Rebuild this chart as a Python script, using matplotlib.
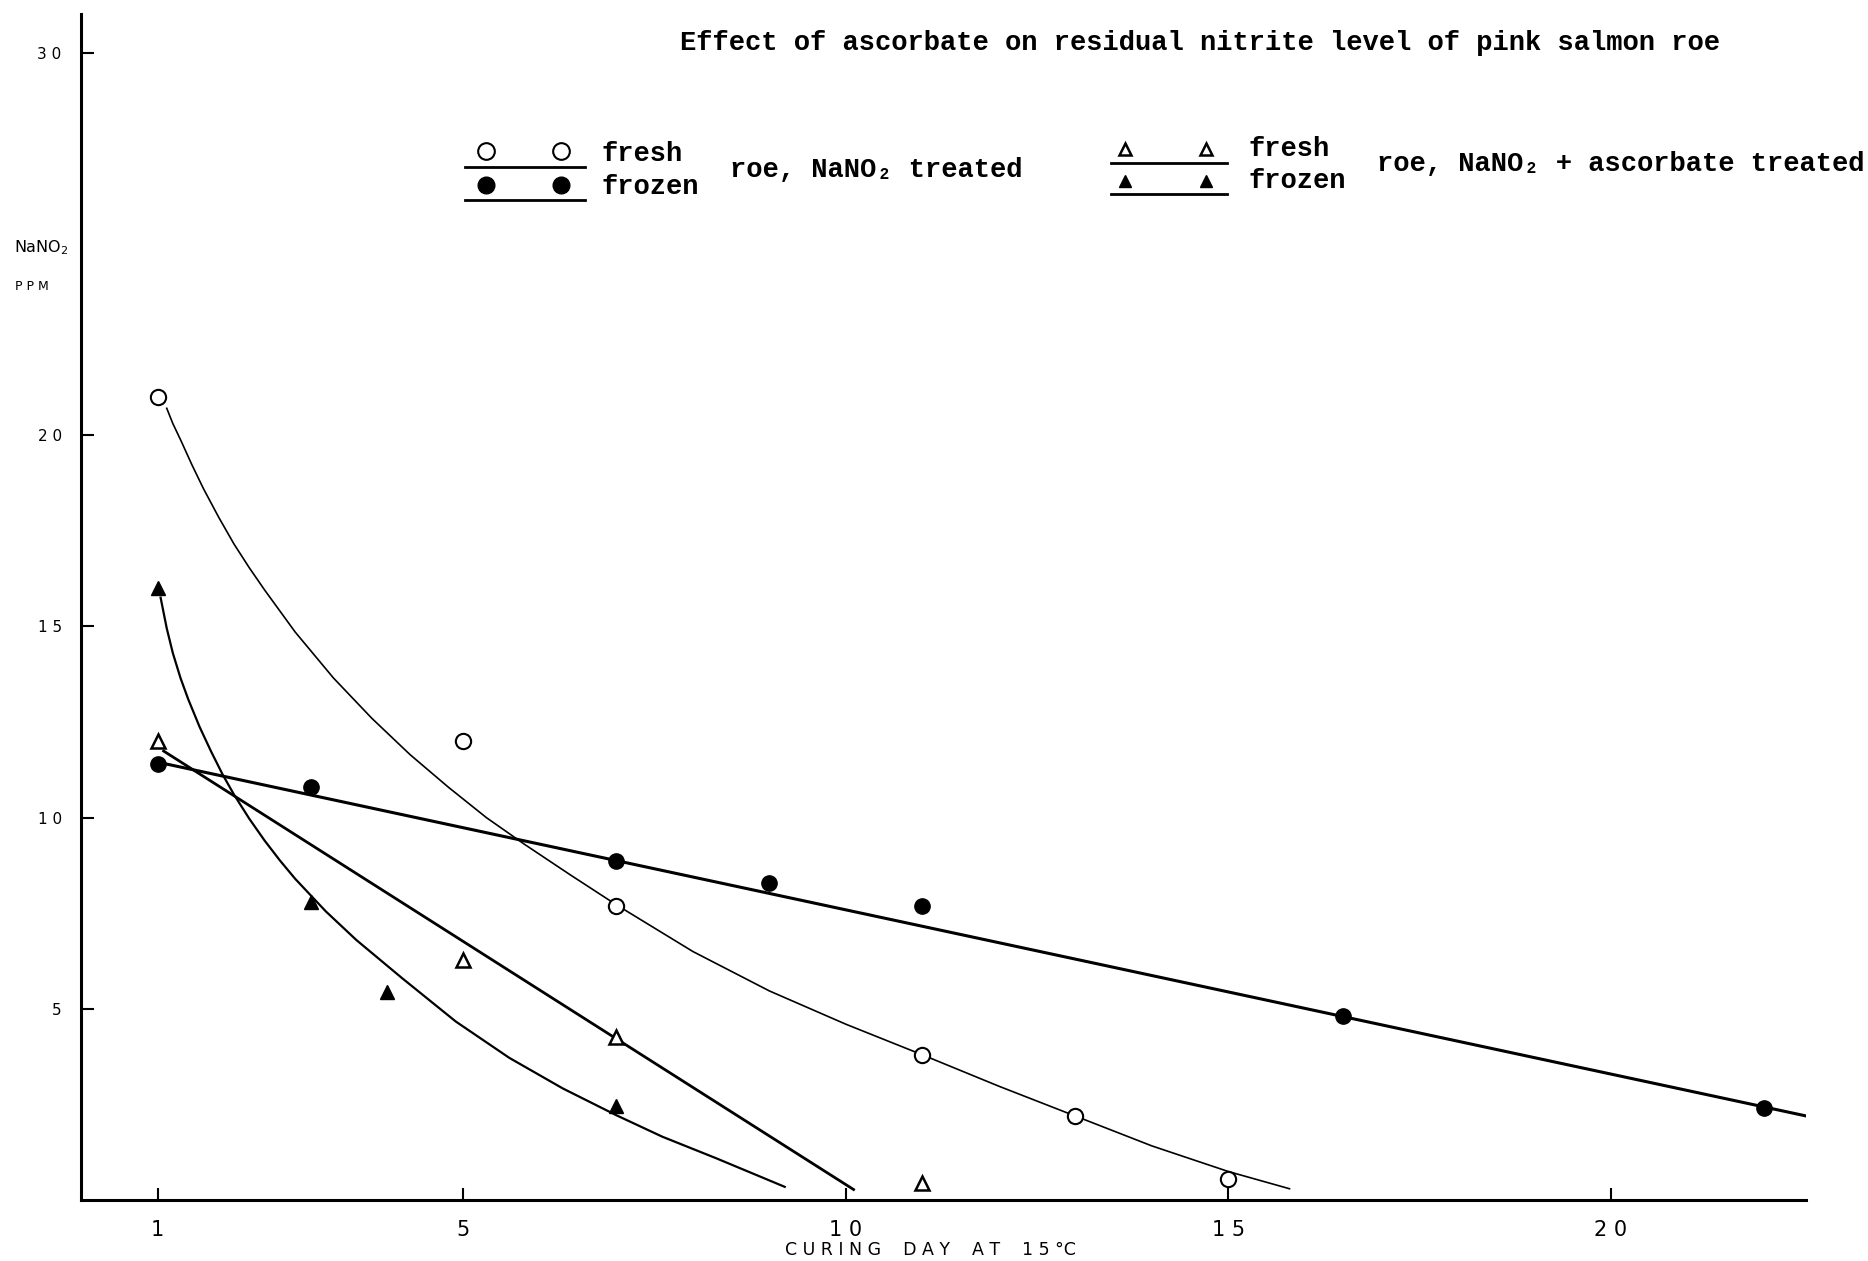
import matplotlib
matplotlib.use("Agg")
import matplotlib.pyplot as plt
from matplotlib.lines import Line2D

# measured points (curing day, NaNO2 ppm)
fresh_nano2_day = [1, 5, 7, 11, 13, 15]
fresh_nano2_ppm = [21.0, 12.0, 7.7, 3.8, 2.2, 0.55]
frozen_nano2_day = [1, 3, 7, 9, 11, 16.5, 22]
frozen_nano2_ppm = [11.4, 10.8, 8.87, 8.3, 7.7, 4.82, 2.4]
fresh_asc_day = [1, 5, 7, 11]
fresh_asc_ppm = [12.0, 6.27, 4.27, 0.44]
frozen_asc_day = [1, 3, 4, 7]
frozen_asc_ppm = [16.0, 7.8, 5.45, 2.45]

# hand-drawn curves
fresh_nano2_curve_x = [1.12, 1.2, 1.3, 1.45, 1.6, 1.8, 2.0, 2.2, 2.4, 2.8, 3.3, 3.8, 4.3, 4.8,
                       5.3, 5.8, 6.4, 7.0, 8.0, 9.0, 10.0, 11.0, 12.0, 13.0, 14.0, 15.0, 15.8]
fresh_nano2_curve_y = [20.7, 20.3, 19.88, 19.22, 18.6, 17.85, 17.15, 16.53, 15.95, 14.85, 13.65,
                       12.6, 11.65, 10.8, 10.0, 9.3, 8.5, 7.72, 6.5, 5.47, 4.6, 3.8, 2.98, 2.2,
                       1.42, 0.75, 0.3]
frozen_nano2_line_x = [1.12, 22.63]
frozen_nano2_line_y = [11.4, 2.17]
fresh_asc_line_x = [1.08, 10.1]
fresh_asc_line_y = [11.74, 0.28]
frozen_asc_curve_x = [1.04, 1.12, 1.2, 1.3, 1.4, 1.55, 1.7, 1.85, 2.0, 2.2, 2.4, 2.6, 2.8, 3.2,
                      3.6, 4.2, 4.9, 5.6, 6.3, 7.0, 7.6, 8.3, 9.2]
frozen_asc_curve_y = [15.75, 14.95, 14.3, 13.65, 13.1, 12.37, 11.73, 11.13, 10.6, 9.97, 9.4,
                      8.88, 8.4, 7.55, 6.8, 5.8, 4.67, 3.72, 2.92, 2.22, 1.66, 1.1, 0.35]

x_ticks = [1, 5, 10, 15, 20]
x_ticklabels = ["1", "5", "1 0", "1 5", "2 0"]
y_ticks = [5, 10, 15, 20, 30]
y_ticklabels = ["5", "1 0", "1 5", "2 0", "3 0"]

mono = ["Liberation Mono", "DejaVu Sans Mono"]
narrow = ["Liberation Sans Narrow", "DejaVu Sans"]

fig = plt.figure(figsize=(18.68, 12.61), dpi=100)
ax = fig.add_axes([0.0434, 0.0482, 0.9233, 0.9405])

ax.plot(fresh_nano2_curve_x, fresh_nano2_curve_y, color="black", lw=1.2)
ax.plot(frozen_nano2_line_x, frozen_nano2_line_y, color="black", lw=2.2)
ax.plot(fresh_asc_line_x, fresh_asc_line_y, color="black", lw=2.0)
ax.plot(frozen_asc_curve_x, frozen_asc_curve_y, color="black", lw=1.6)

ax.plot(fresh_nano2_day, fresh_nano2_ppm, "o", ms=11, mfc="white", mec="black", mew=1.5)
ax.plot(frozen_nano2_day, frozen_nano2_ppm, "o", ms=11, mfc="black", mec="black")
ax.plot(fresh_asc_day, fresh_asc_ppm, "^", ms=9.5, mfc="white", mec="black", mew=1.8)
ax.plot(frozen_asc_day, frozen_asc_ppm, "^", ms=9.5, mfc="black", mec="black")

ax.set_xlim(0, 22.55)
ax.set_ylim(0, 31)
for s in ["top", "right"]:
    ax.spines[s].set_visible(False)
for s in ["left", "bottom"]:
    ax.spines[s].set_linewidth(2.2)

ax.set_xticks(x_ticks)
ax.set_xticklabels(x_ticklabels, fontsize=15, family=narrow)
ax.set_yticks(y_ticks)
ax.set_yticklabels(y_ticklabels, fontsize=11)
ax.tick_params(axis="x", direction="in", length=9, width=1.5, pad=14)
ax.tick_params(axis="y", direction="in", length=9, width=1.5, pad=14)

fig.text(0.498, 0.0085, "C U R I N G    D A Y    A T    1 5 °C", ha="center", va="center",
         fontsize=12.5, family=narrow)
fig.text(0.0077, 0.804, "NaNO$_2$", ha="left", va="center", fontsize=11.5)
fig.text(0.008, 0.773, "P P M", ha="left", va="center", fontsize=9)

fig.text(0.364, 0.966, "Effect of ascorbate on residual nitrite level of pink salmon roe",
         ha="left", va="center", fontsize=19.5, fontweight="bold", family=mono)

# legend, left group
fig.add_artist(Line2D([0.2602, 0.3004], [0.880, 0.880], ls="none", marker="o", ms=12,
                      mfc="white", mec="black", mew=1.5, transform=fig.transFigure))
fig.add_artist(Line2D([0.2487, 0.3131], [0.8677, 0.8677], color="black", lw=2, transform=fig.transFigure))
fig.add_artist(Line2D([0.2602, 0.3004], [0.8535, 0.8535], ls="none", marker="o", ms=12,
                      mfc="black", mec="black", transform=fig.transFigure))
fig.add_artist(Line2D([0.2487, 0.3131], [0.8412, 0.8412], color="black", lw=2, transform=fig.transFigure))
fig.text(0.322, 0.878, "fresh", fontsize=19.5, fontweight="bold", family=mono, va="center")
fig.text(0.322, 0.8516, "frozen", fontsize=19.5, fontweight="bold", family=mono, va="center")
fig.text(0.391, 0.8648, "roe, NaNO₂ treated", fontsize=19.5, fontweight="bold", family=mono, va="center")

# legend, right group
fig.add_artist(Line2D([0.602, 0.6454], [0.8819, 0.8819], ls="none", marker="^", ms=9,
                      mfc="white", mec="black", mew=1.8, transform=fig.transFigure))
fig.add_artist(Line2D([0.595, 0.6569], [0.8705, 0.8705], color="black", lw=2, transform=fig.transFigure))
fig.add_artist(Line2D([0.602, 0.6454], [0.8563, 0.8563], ls="none", marker="^", ms=9,
                      mfc="black", mec="black", transform=fig.transFigure))
fig.add_artist(Line2D([0.595, 0.6569], [0.8459, 0.8459], color="black", lw=2, transform=fig.transFigure))
fig.text(0.6684, 0.8819, "fresh", fontsize=19.5, fontweight="bold", family=mono, va="center")
fig.text(0.6684, 0.8563, "frozen", fontsize=19.5, fontweight="bold", family=mono, va="center")
fig.text(0.7372, 0.8696, "roe, NaNO₂ + ascorbate treated", fontsize=19.5, fontweight="bold",
         family=mono, va="center")

fig.savefig("out.png", dpi=100)
